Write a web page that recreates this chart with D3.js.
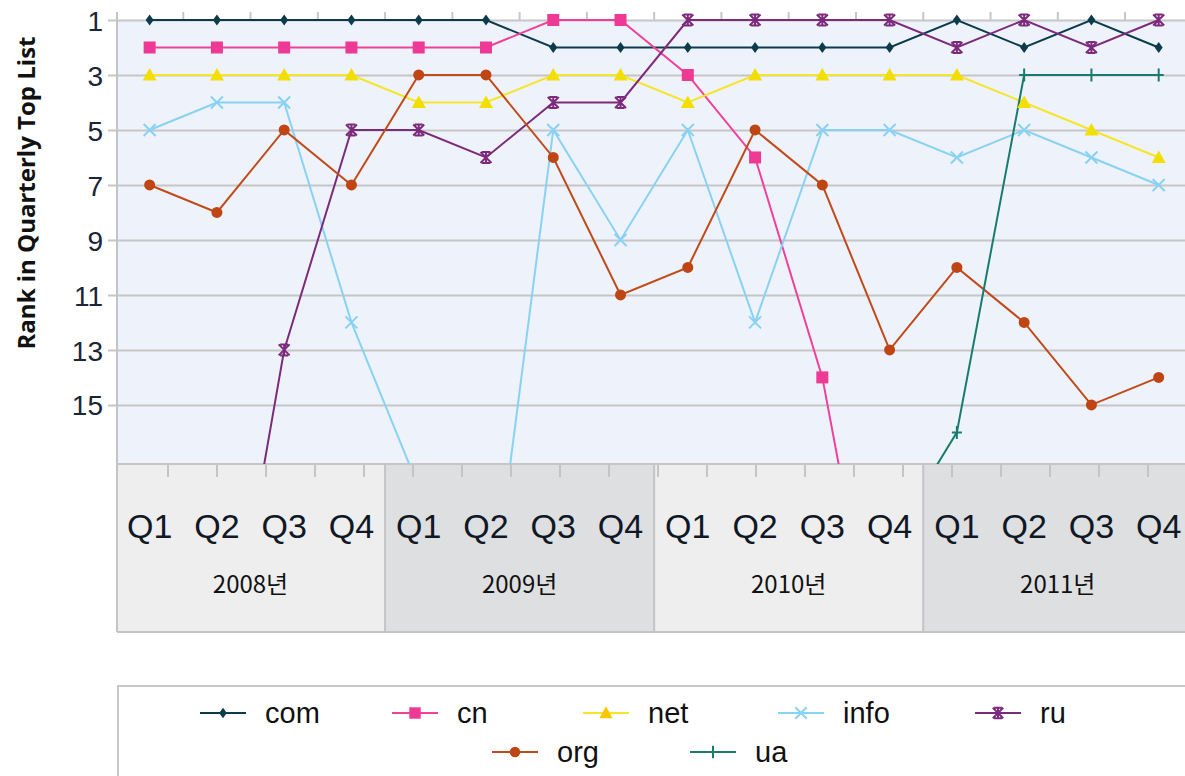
<!DOCTYPE html>
<html><head><meta charset="utf-8">
<script src="https://cdn.jsdelivr.net/npm/d3@7"></script>
<style>body{margin:0;background:#fff;overflow:hidden} svg{display:block}</style>
</head><body>
<svg id="c" width="1185" height="776"></svg>
<script>
// ---- data ----
const years = ["2008년", "2009년", "2010년", "2011년"];
const quarterLabels = ["Q1", "Q2", "Q3", "Q4"];
const yTickValues = [1, 3, 5, 7, 9, 11, 13, 15];
const seriesNames = ["com", "cn", "net", "info", "ru", "org", "ua"];
const com  = [1, 1, 1, 1, 1, 1, 2, 2, 2, 2, 2, 2, 1, 2, 1, 2];
const cn   = [2, 2, 2, 2, 2, 2, 1, 1, 3, 6, 14, 27, null, null, null, null];
const net  = [3, 3, 3, 3, 4, 4, 3, 3, 4, 3, 3, 3, 3, 4, 5, 6];
const info = [5, 4, 4, 12, 18, 24, 5, 9, 5, 12, 5, 5, 6, 5, 6, 7];
const ru   = [null, 27, 13, 5, 5, 6, 4, 4, 1, 1, 1, 1, 2, 1, 2, 1];
const org  = [7, 8, 5, 7, 3, 3, 6, 11, 10, 5, 7, 13, 10, 12, 15, 14];
const ua   = [null, null, null, null, null, null, null, null, null, null, null, 20, 16, 3, 3, 3];
const seriesValues = [com, cn, net, info, ru, org, ua];

// ---- styles ----
const styles = {
  com:  {line: "#0c3b4c", fill: "#0c3b4c", sym: "diamond"},
  cn:   {line: "#f0409a", fill: "#ee3a94", sym: "square"},
  net:  {line: "#f6e52a", fill: "#f2df00", sym: "triangle"},
  info: {line: "#88d2f3", fill: "#88d2f3", sym: "x"},
  ru:   {line: "#7c2a7c", fill: "#7c2a7c", sym: "star"},
  org:  {line: "#c04a1a", fill: "#bf4514", sym: "circle"},
  ua:   {line: "#177b6e", fill: "#177b6e", sym: "plus"}
};

const keys = [];
years.forEach(y => quarterLabels.forEach(q => keys.push(y + "|" + q)));

const svg = d3.select("#c");
const W = 1185;
const plotLeft = 117, plotTop = 20, plotBottom = 464, bandBottom = 632;

const x = d3.scaleBand().domain(keys).range([116, 116 + 16 * 67.27]).padding(0);
const cx = k => x(k) + x.bandwidth() / 2;
const y = d3.scaleLinear().domain([1, 17.15]).range([plotTop, plotBottom]);

// plot background
svg.append("rect").attr("x", plotLeft).attr("y", plotTop)
  .attr("width", W - plotLeft).attr("height", plotBottom - plotTop)
  .attr("fill", "#eef2fa");

// gridlines + y ticks
const yAxis = d3.axisLeft(y).tickValues(yTickValues).tickSize(-(W - plotLeft)).tickPadding(14).tickSizeOuter(0);
const gy = svg.append("g").attr("transform", `translate(${plotLeft},0)`).call(yAxis);
gy.select(".domain").remove();
gy.selectAll(".tick line").attr("stroke", "#c6c6c6").attr("stroke-width", 2).attr("x1", -9);
gy.selectAll(".tick text").attr("font-family", "'Liberation Sans', Arial, sans-serif")
  .attr("font-size", 28).attr("fill", "#1a2536").attr("dy", "0.36em");

// top ticks at category boundaries
const topTicks = svg.append("g");
keys.slice(1).forEach(k => {
  topTicks.append("line").attr("x1", x(k)).attr("x2", x(k)).attr("y1", 12).attr("y2", plotTop)
    .attr("stroke", "#c6c6c6").attr("stroke-width", 2);
});

// category band
const yearBand = d3.scaleBand().domain(years).range([x(keys[0]), x(keys[0]) + 16 * x.step()]);
const bandFill = ["#eeeeee", "#dedfe1", "#eeeeee", "#dedfe1"];
years.forEach((yr, i) => {
  const x0 = Math.max(plotLeft, yearBand(yr));
  svg.append("rect").attr("x", x0).attr("y", plotBottom)
    .attr("width", yearBand(yr) + yearBand.bandwidth() - x0).attr("height", bandBottom - plotBottom)
    .attr("fill", bandFill[i]);
  if (i > 0) svg.append("line").attr("x1", yearBand(yr)).attr("x2", yearBand(yr))
    .attr("y1", plotBottom).attr("y2", bandBottom).attr("stroke", "#c4c4c4").attr("stroke-width", 2);
});
// ticks on top of band
const bandTick = d3.scaleLinear().domain([0, 20]).range([168, 1148]);
d3.range(21).forEach(i => {
  svg.append("line").attr("x1", bandTick(i)).attr("x2", bandTick(i)).attr("y1", plotBottom).attr("y2", plotBottom + 13)
    .attr("stroke", "#c4c4c4").attr("stroke-width", 2);
});
svg.append("line").attr("x1", plotLeft).attr("x2", W).attr("y1", plotBottom).attr("y2", plotBottom)
  .attr("stroke", "#c6c6c6").attr("stroke-width", 2);
svg.append("line").attr("x1", plotLeft).attr("x2", W).attr("y1", bandBottom).attr("y2", bandBottom)
  .attr("stroke", "#c4c4c4").attr("stroke-width", 2);
svg.append("line").attr("x1", plotLeft).attr("x2", plotLeft).attr("y1", 12).attr("y2", bandBottom)
  .attr("stroke", "#c4c4c4").attr("stroke-width", 2);

// quarter labels
keys.forEach(k => {
  svg.append("text").attr("x", cx(k)).attr("y", 538).attr("text-anchor", "middle")
    .attr("font-family", "'Liberation Sans', Arial, sans-serif").attr("font-size", 34)
    .attr("fill", "#101826").text(k.split("|")[1]);
});
years.forEach(yr => {
  svg.append("text").attr("x", yearBand(yr) + yearBand.bandwidth() / 2).attr("y", 593).attr("text-anchor", "middle")
    .attr("font-family", "'Noto Sans CJK KR', 'Noto Sans', sans-serif").attr("font-size", 24)
    .attr("fill", "#111").text(yr);
});

// y axis title
svg.append("text").attr("transform", `translate(35,193) rotate(-90)`).attr("text-anchor", "middle")
  .attr("font-family", "'Open Sans', 'Noto Sans', sans-serif").attr("font-weight", 700).attr("font-size", 24)
  .attr("fill", "#111").text("Rank in Quarterly Top List");

// clip
svg.append("clipPath").attr("id", "clip").append("rect")
  .attr("x", plotLeft).attr("y", 0).attr("width", W - plotLeft).attr("height", plotBottom);

function drawMarker(g, sym, st, px, py, scale) {
  const s = scale || 1;
  if (sym === "diamond") {
    g.append("path").attr("d", `M${px},${py-5.5*s}L${px+4*s},${py}L${px},${py+5.5*s}L${px-4*s},${py}Z`).attr("fill", st.fill);
  } else if (sym === "square") {
    g.append("rect").attr("x", px - 6*s).attr("y", py - 6*s).attr("width", 12*s).attr("height", 12*s).attr("fill", st.fill);
  } else if (sym === "triangle") {
    g.append("path").attr("d", `M${px},${py-7*s}L${px+7*s},${py+5.5*s}L${px-7*s},${py+5.5*s}Z`).attr("fill", st.fill);
  } else if (sym === "x") {
    g.append("path").attr("d", `M${px-6*s},${py-6*s}L${px+6*s},${py+6*s}M${px+6*s},${py-6*s}L${px-6*s},${py+6*s}`)
      .attr("stroke", st.fill).attr("stroke-width", 2).attr("fill", "none");
  } else if (sym === "star") {
    g.append("path").attr("d", `M${px-5.5*s},${py-5.5*s}L${px+5.5*s},${py+5.5*s}M${px+5.5*s},${py-5.5*s}L${px-5.5*s},${py+5.5*s}M${px},${py-6*s}L${px},${py+6*s}M${px-4*s},${py-5.5*s}L${px+4*s},${py-5.5*s}M${px-4*s},${py+5.5*s}L${px+4*s},${py+5.5*s}`)
      .attr("stroke", st.fill).attr("stroke-width", 2).attr("fill", "none");
  } else if (sym === "circle") {
    g.append("circle").attr("cx", px).attr("cy", py).attr("r", 5.5*s).attr("fill", st.fill);
  } else if (sym === "plus") {
    g.append("path").attr("d", `M${px},${py-6.5*s}L${px},${py+6.5*s}M${px-5*s},${py}L${px+5*s},${py}`)
      .attr("stroke", st.fill).attr("stroke-width", 2).attr("fill", "none");
  }
}

// series
const plotG = svg.append("g").attr("clip-path", "url(#clip)");
const line = d3.line().defined(d => d.v != null).x(d => cx(d.k)).y(d => y(d.v));
seriesNames.forEach((name, si) => {
  const st = styles[name];
  const pts = seriesValues[si].map((v, i) => ({k: keys[i], v}));
  plotG.append("path").datum(pts).attr("d", line).attr("fill", "none")
    .attr("stroke", st.line).attr("stroke-width", 2);
});
seriesNames.forEach((name, si) => {
  const st = styles[name];
  const g = plotG.append("g");
  seriesValues[si].forEach((v, i) => {
    if (v != null && v <= 17) drawMarker(g, st.sym, st, cx(keys[i]), y(v));
  });
});

// legend
svg.append("rect").attr("x", 118).attr("y", 686).attr("width", 1100).attr("height", 120)
  .attr("fill", "#fff").attr("stroke", "#c8c8c8").attr("stroke-width", 2);
const legendRows = [[0, 1, 2, 3, 4], [5, 6]];
const legendX = [[200, 392, 583, 778, 975], [492, 690]];
const legendY = [713, 752];
legendRows.forEach((row, ri) => {
  row.forEach((si, j) => {
    const name = seriesNames[si], st = styles[name];
    const lx = legendX[ri][j], ly = legendY[ri];
    const g = svg.append("g");
    g.append("line").attr("x1", lx).attr("x2", lx + 46).attr("y1", ly).attr("y2", ly)
      .attr("stroke", st.line).attr("stroke-width", 2);
    const legSt = name === "net" ? {fill: "#f7c800"} : st;
    drawMarker(g, st.sym, legSt, lx + 23, ly, 0.95);
    g.append("text").attr("x", lx + 65).attr("y", ly + 10)
      .attr("font-family", "'Liberation Sans', Arial, sans-serif").attr("font-size", 29)
      .attr("fill", "#111").text(name);
  });
});
</script>
</body></html>
